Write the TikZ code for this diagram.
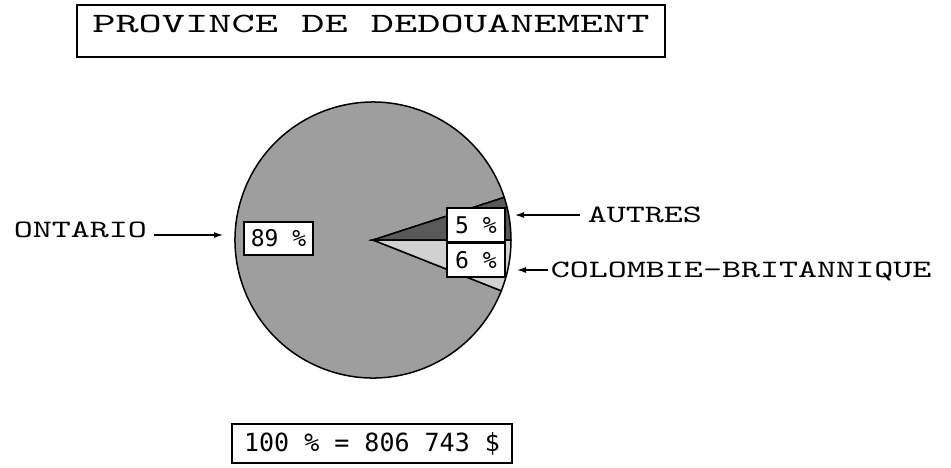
\documentclass[tikz,border=0pt]{standalone}
\usepackage{fontspec}
\newfontfamily\titlefont{lmmono10-regular.otf}[FakeStretch=1.58]
\newfontfamily\namefont{lmmono10-regular.otf}[FakeStretch=1.45]
\newfontfamily\pctfont{DejaVu Sans Mono}
\usetikzlibrary{arrows.meta}

\begin{document}
\begin{tikzpicture}[
            x=1pt, y=-1pt,
            line width=1.5pt,
            every node/.style={inner sep=0pt},
            labeltext/.style={font=\namefont\fontsize{25}{28}\selectfont, anchor=base west},
            pct/.style={draw, fill=white, font=\pctfont\fontsize{23}{26}\selectfont, minimum width=58pt, minimum height=34pt},
            pointer/.style={-{Latex[length=9pt,width=6pt]}, line width=1.2pt},
            slice/.style={draw, line width=1.5pt}
        ]
            \useasboundingbox (0,0) rectangle (951,467);
            \coordinate (c) at (373,240);
            \draw[slice, fill=black!38] (c) -- ++(21.6:138) arc[start angle=21.6, end angle=342, radius=138] -- cycle;
            \draw[slice, fill=black!65] (c) -- ++(0:138) arc[start angle=0, end angle=-18, radius=138] -- cycle;
            \draw[slice, fill=black!18] (c) -- ++(0:138) arc[start angle=0, end angle=21.6, radius=138] -- cycle;

            \node[draw, anchor=base, font=\titlefont\fontsize{28}{32}\selectfont,
                text height=27pt, text depth=25pt, minimum width=588pt] (title) at (371,32) {PROVINCE DE DEDOUANEMENT};

            \node[pct, minimum width=69pt, minimum height=33pt] (ont) at (278.5,238.5) {89 \%};
            \node[pct] (aut) at (476,225) {5 \%};
            \node[pct] (cb) at (476,260) {6 \%};

            \node[labeltext] (ontario) at (13,237) {ONTARIO};
            \node[labeltext] (autres) at (587,222) {AUTRES};
            \node[labeltext] (colombie) at (550,277) {COLOMBIE-BRITANNIQUE};

            \coordinate (ontpt) at (223,235);
            \coordinate (autpt) at (515,215);
            \coordinate (cbpt) at (517,270);
            \draw[pointer] ([xshift=6pt,yshift=2pt]ontario.base east) -- (ontpt);
            \draw[pointer] ([xshift=-7pt,yshift=7pt]autres.base west) -- (autpt);
            \draw[pointer] ([xshift=-2pt,yshift=7pt]colombie.base west) -- (cbpt);

            \node[draw, font=\pctfont\fontsize{25}{28}\selectfont, minimum width=280pt, minimum height=39pt] (total) at (372,443.5) {100 \% = 806 743 \$};
        \end{tikzpicture}
\end{document}
